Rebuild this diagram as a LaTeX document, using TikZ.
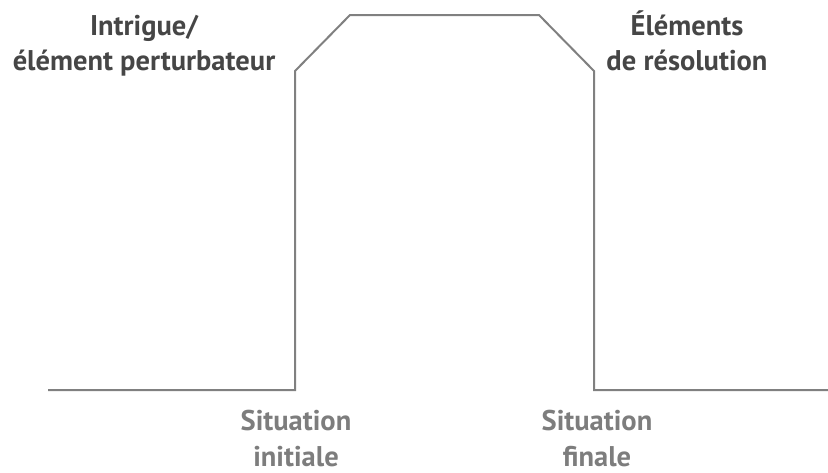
\documentclass[tikz,border=0pt]{standalone}
\usepackage{fontspec}
\setmainfont{PT Sans}
\usepackage{tikz}

\definecolor{courbe}{RGB}{128,128,128}
\definecolor{titre}{RGB}{70,70,70}
\definecolor{etape}{RGB}{125,125,125}

\begin{document}
\begin{tikzpicture}[x=1pt,y=-1pt]
			\tikzset{every node/.style={inner sep=0pt,anchor=base},
				haut/.style={text=titre,font=\fontsize{28.5}{28.5}\selectfont\bfseries},
				bas/.style={text=etape,text depth=0pt,font=\fontsize{28.5}{28.5}\selectfont\bfseries}}
			\useasboundingbox (0,0) rectangle (828,472);
			\coordinate (debut) at (48,390);
			\coordinate (pied1) at (295,390);
			\coordinate (coin1) at (295,71);
			\coordinate (sommet1) at (350,15);
			\coordinate (sommet2) at (539,15);
			\coordinate (coin2) at (594,71);
			\coordinate (pied2) at (594,390);
			\coordinate (fin) at (828,390);
			\draw [courbe,line width=2pt] (debut) -- (pied1) -- (coin1) -- (sommet1) -- (sommet2) -- (coin2) -- (pied2) -- (fin);
			\node [haut] (intrigue1) at (144,35) {Intrigue/};
			\node [haut] (intrigue2) at (144,70) {élément perturbateur};
			\node [haut] (resol1) at (687,35) {Éléments};
			\node [haut] (resol2) at (687,70) {de résolution};
			\node [bas] (init1) at (296,430) {Situation};
			\node [bas] (init2) at (296,466) {initiale};
			\node [bas] (final1) at (597,430) {Situation};
			\node [bas] (final2) at (597,466) {finale};
		\end{tikzpicture}
\end{document}
